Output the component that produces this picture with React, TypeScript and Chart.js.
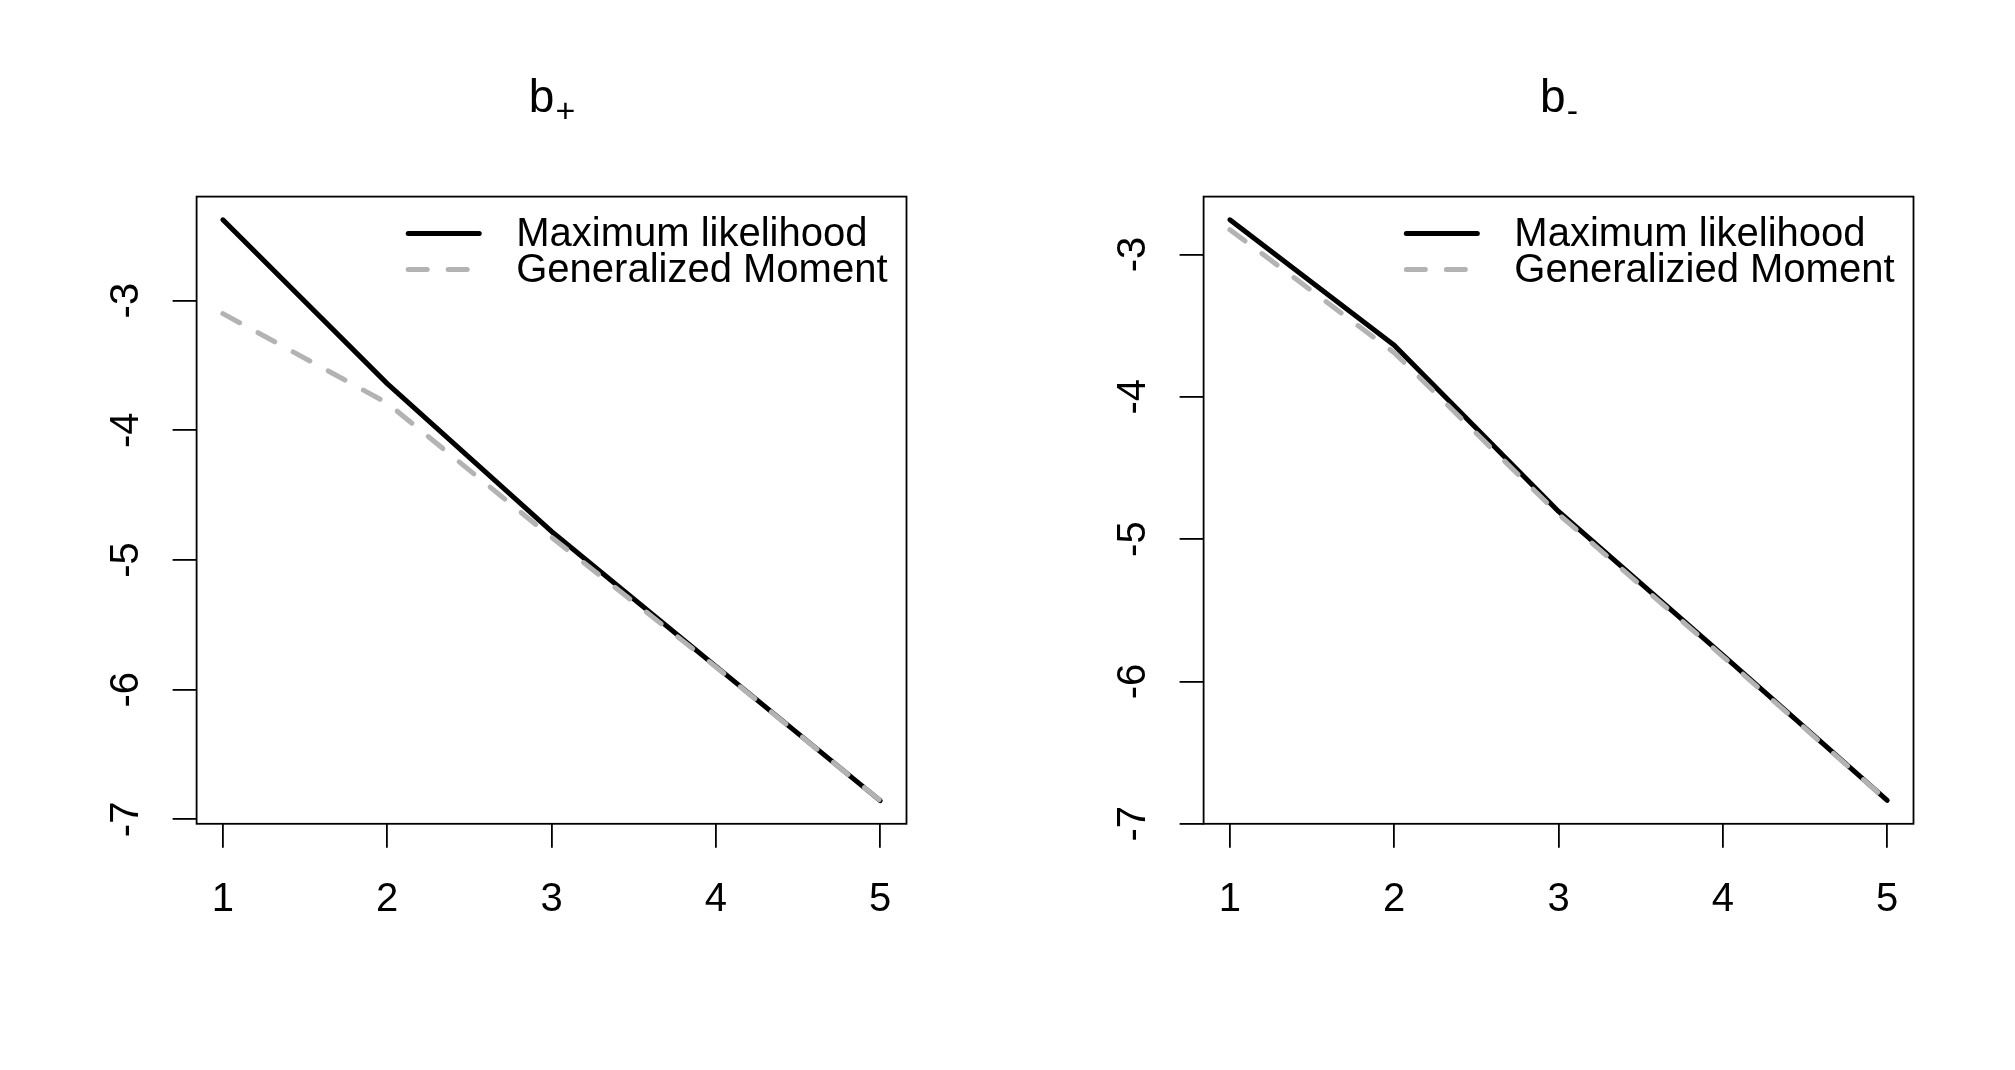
import React, { useEffect, useRef } from "react";
import { Chart, registerables } from "chart.js";

Chart.register(...registerables);

// ---- data ----
const X_VALUES = [1, 2, 3, 4, 5];
const X_TICKS = [1, 2, 3, 4, 5];
const Y_TICKS = [-7, -6, -5, -4, -3];

const BPLUS_ML = [-2.377, -3.64, -4.78, -5.82, -6.855];
const BPLUS_GM = [-3.1, -3.79, -4.825, -5.825, -6.855];
const BMINUS_ML = [-2.757, -3.638, -4.806, -5.815, -6.835];
const BMINUS_GM = [-2.826, -3.69, -4.825, -5.825, -6.837];

const NAMES_LEFT = ["Maximum likelihood", "Generalized Moment"];
const NAMES_RIGHT = ["Maximum likelihood", "Generalizied Moment"];

const TITLE_BASE = ["b", "b"];
const TITLE_SUB = ["+", "-"];

const FONT = '"Liberation Sans", Arial, Helvetica, sans-serif';
const H = 1070;

type PanelProps = {
  ml: number[];
  gm: number[];
  names: string[];
  base: string;
  sub: string;
  left: number;
  width: number;
};

function makeBoxPlugin() {
  return {
    id: "rBox",
    afterDraw(chart: any) {
      const { ctx, chartArea: ca } = chart;
      ctx.save();
      ctx.strokeStyle = "#000";
      ctx.lineWidth = 1.8;
      ctx.strokeRect(ca.left, ca.top, ca.right - ca.left, ca.bottom - ca.top);
      ctx.restore();
    },
  };
}

function makeTitlePlugin(base: string, sub: string) {
  return {
    id: "rTitle",
    afterDraw(chart: any) {
      const { ctx, chartArea: ca } = chart;
      ctx.save();
      ctx.fillStyle = "#000";
      ctx.textAlign = "left";
      ctx.textBaseline = "alphabetic";
      ctx.font = `46px ${FONT}`;
      const wb = ctx.measureText(base).width;
      ctx.font = `34px ${FONT}`;
      const ws = ctx.measureText(sub).width;
      const cx = (ca.left + ca.right) / 2;
      const x0 = cx - (wb + ws) / 2;
      const yb = ca.top - 84.3;
      ctx.font = `46px ${FONT}`;
      ctx.fillText(base, x0, yb);
      ctx.font = `34px ${FONT}`;
      ctx.fillText(sub, x0 + wb + 1, yb + 10);
      ctx.restore();
    },
  };
}

function makeLegendPlugin() {
  return {
    id: "rLegend",
    afterDraw(chart: any) {
      const { ctx, chartArea: ca } = chart;
      const sets = chart.data.datasets;
      ctx.save();
      ctx.font = `40px ${FONT}`;
      let maxW = 0;
      sets.forEach((d: any) => {
        maxW = Math.max(maxW, ctx.measureText(d.label).width);
      });
      const textRight = ca.right - 19;
      const textLeft = textRight - maxW;
      const segR = textLeft - 37;
      const segL = segR - 71;
      sets.forEach((d: any, i: number) => {
        const y = ca.top + 36.8 + i * 36;
        ctx.beginPath();
        ctx.strokeStyle = d.borderColor;
        ctx.lineWidth = d.borderWidth;
        ctx.lineCap = "round";
        ctx.setLineDash(d.borderDash || []);
        ctx.moveTo(segL, y);
        ctx.lineTo(segR, y);
        ctx.stroke();
        ctx.setLineDash([]);
        ctx.fillStyle = "#000";
        ctx.textAlign = "left";
        ctx.textBaseline = "middle";
        ctx.fillText(d.label, textLeft, y + 1.5);
      });
      ctx.restore();
    },
  };
}

function Panel({ ml, gm, names, base, sub, left, width }: PanelProps) {
  const ref = useRef<HTMLCanvasElement>(null);

  useEffect(() => {
    const all = [...ml, ...gm];
    const lo = Math.min(...all);
    const hi = Math.max(...all);
    const r = hi - lo;
    const yMin = lo - 0.04 * r;
    const yMax = hi + 0.04 * r;
    const x0 = X_VALUES[0];
    const x1 = X_VALUES[X_VALUES.length - 1];
    const xr = x1 - x0;
    const xMin = x0 - 0.04 * xr;
    const xMax = x1 + 0.04 * xr;

    const chart = new Chart(ref.current as HTMLCanvasElement, {
      type: "line",
      data: {
        datasets: [
          {
            label: names[0],
            data: X_VALUES.map((x, i) => ({ x, y: ml[i] })),
            borderColor: "#000000",
            borderWidth: 5,
            pointRadius: 0,
            tension: 0,
            borderCapStyle: "round",
            borderJoinStyle: "round",
            fill: false,
            order: 2,
          },
          {
            label: names[1],
            data: X_VALUES.map((x, i) => ({ x, y: gm[i] })),
            borderColor: "#B3B3B3",
            borderWidth: 5,
            borderDash: [19, 21],
            pointRadius: 0,
            tension: 0,
            borderCapStyle: "round",
            borderJoinStyle: "round",
            fill: false,
            order: 1,
          },
        ],
      } as any,
      options: {
        animation: false,
        responsive: false,
        devicePixelRatio: 1,
        layout: { padding: { top: 196.6, right: 101.5, bottom: 0, left: 0 } },
        plugins: {
          legend: { display: false },
          tooltip: { enabled: false },
          title: { display: false },
        },
        scales: {
          x: {
            type: "linear",
            min: xMin,
            max: xMax,
            afterBuildTicks: (s: any) => {
              s.ticks = X_TICKS.map((v) => ({ value: v }));
            },
            afterFit: (s: any) => {
              s.height = 246.2;
            },
            grid: {
              display: true,
              drawOnChartArea: false,
              drawTicks: true,
              tickLength: 24,
              color: "#000",
              lineWidth: 1.8,
            },
            border: { display: false },
            ticks: {
              color: "#000",
              font: { family: FONT, size: 40 },
              padding: 28,
              maxRotation: 0,
              autoSkip: false,
              callback: (v: any) => String(v),
            },
          },
          y: {
            type: "linear",
            min: yMin,
            max: yMax,
            afterBuildTicks: (s: any) => {
              s.ticks = Y_TICKS.map((v) => ({ value: v }));
            },
            afterFit: (s: any) => {
              s.width = 196.6;
            },
            grid: {
              display: true,
              drawOnChartArea: false,
              drawTicks: true,
              tickLength: 24,
              color: "#000",
              lineWidth: 1.8,
            },
            border: { display: false },
            ticks: {
              color: "#000",
              font: { family: FONT, size: 40 },
              padding: 28,
              minRotation: 90,
              maxRotation: 90,
              crossAlign: "center",
              autoSkip: false,
              callback: (v: any) => String(v),
            },
          },
        },
      } as any,
      plugins: [makeBoxPlugin(), makeTitlePlugin(base, sub), makeLegendPlugin()],
    });
    return () => chart.destroy();
  }, []);

  return (
    <canvas
      ref={ref}
      width={width}
      height={H}
      style={{ position: "absolute", left, top: 0, width, height: H }}
    />
  );
}

export default function App() {
  return (
    <div
      style={{
        position: "absolute",
        left: 0,
        top: 0,
        width: 2015,
        height: H,
        background: "#fff",
        overflow: "hidden",
      }}
    >
      <Panel
        ml={BPLUS_ML}
        gm={BPLUS_GM}
        names={NAMES_LEFT}
        base={TITLE_BASE[0]}
        sub={TITLE_SUB[0]}
        left={0}
        width={1008}
      />
      <Panel
        ml={BMINUS_ML}
        gm={BMINUS_GM}
        names={NAMES_RIGHT}
        base={TITLE_BASE[1]}
        sub={TITLE_SUB[1]}
        left={1007}
        width={1008}
      />
    </div>
  );
}
